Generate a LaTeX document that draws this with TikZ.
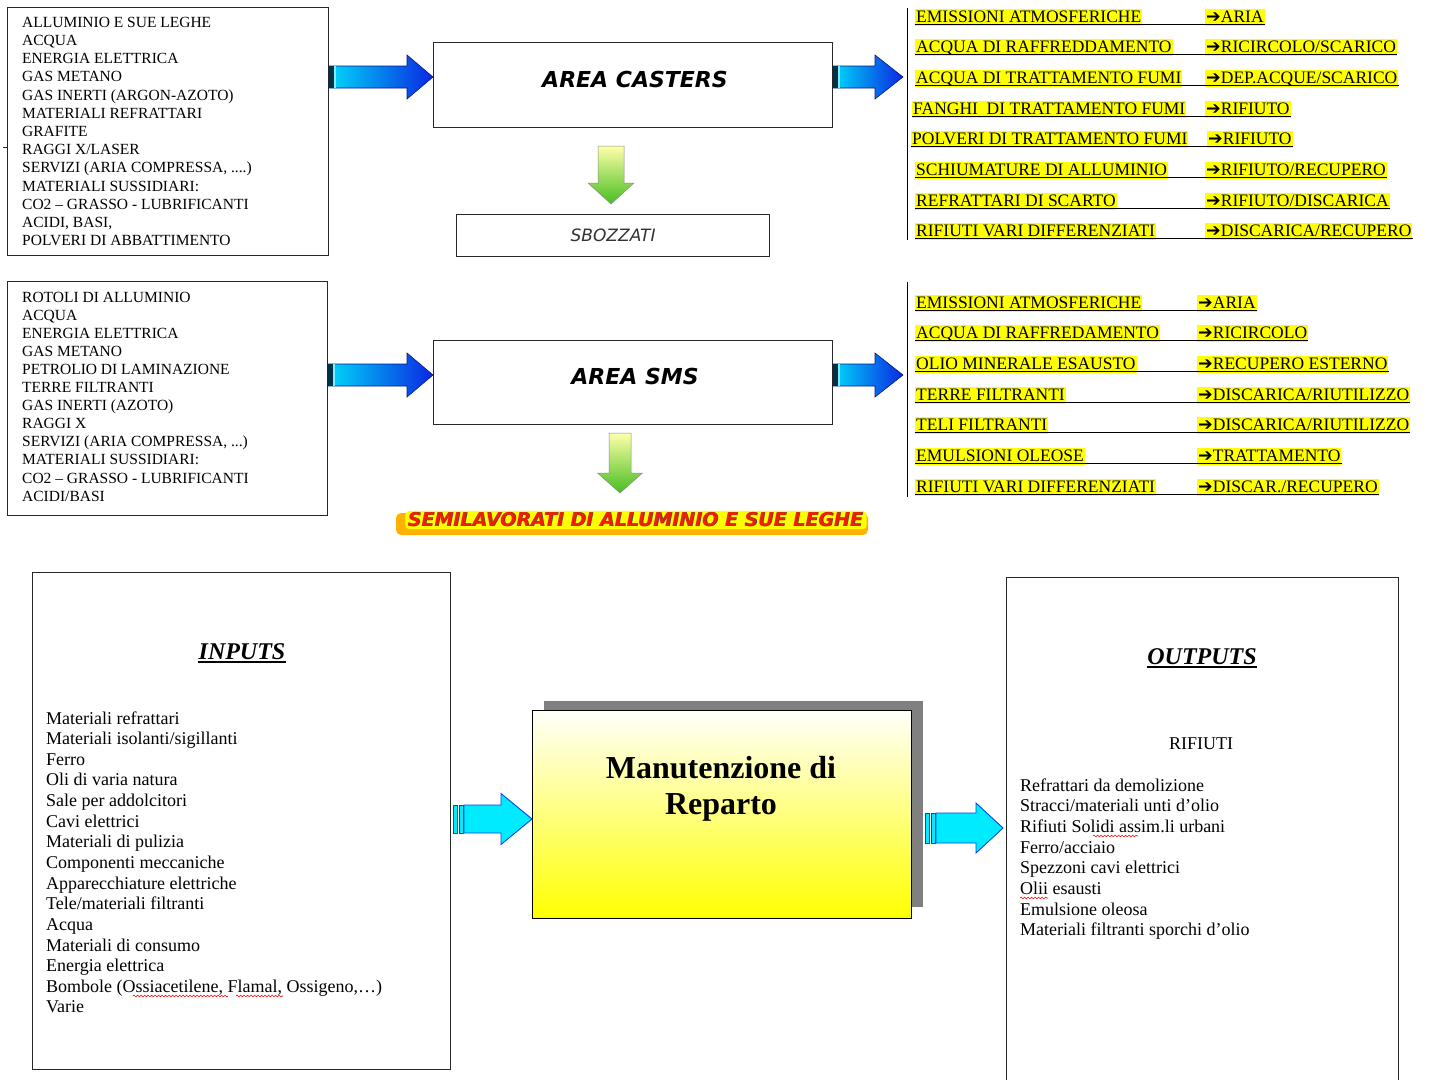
\documentclass[tikz,border=0pt]{standalone}
\usepackage{fontspec}
\setmainfont{Liberation Serif}
\newfontfamily\comic{DejaVu Sans}[BoldFont={DejaVu Sans Bold},ItalicFont={DejaVu Sans Oblique},BoldItalicFont={DejaVu Sans Bold Oblique}]
\newfontfamily\dv{DejaVu Sans}
\usetikzlibrary{calc,backgrounds,decorations.pathmorphing}

\definecolor{cyanA}{RGB}{0,215,250}
\definecolor{cyanM}{RGB}{0,165,245}
\definecolor{blueA}{RGB}{10,40,225}
\definecolor{darkteal}{RGB}{0,50,70}
\definecolor{hly}{RGB}{255,255,0}
\definecolor{greenA}{RGB}{70,190,30}
\definecolor{lyel}{RGB}{255,255,170}
\definecolor{cyanB}{RGB}{0,235,255}
\definecolor{blueB}{RGB}{0,70,235}
\definecolor{semired}{RGB}{240,30,0}
\definecolor{boxline}{RGB}{40,40,40}
\definecolor{shadowgray}{RGB}{128,128,128}

\newcommand\fourdots{.\kern0pt.\kern0pt.\kern0pt.}
\newcommand\threedots{.\kern0pt.\kern0pt.}

\tikzset{
 box/.style={draw=boxline, line width=1.2pt, anchor=north west, inner sep=0pt},
 lst/.style={anchor=base west, inner sep=0pt, font=\fontsize{15.5}{18}\selectfont},
 blst/.style={anchor=base west, inner sep=0pt, font=\fontsize{18}{20}\selectfont},
 hl/.style={fill=hly, anchor=base west, inner xsep=1pt, inner ysep=1pt, text height=12pt, text depth=3pt, font=\fontsize{17.5}{20}\selectfont},
 ul/.style={line width=1.2pt, black},
 comictitle/.style={font=\comic\bfseries\itshape\fontsize{22}{26}\selectfont, inner sep=0pt},
 heading/.style={anchor=base, inner sep=0pt, font=\bfseries\itshape\fontsize{24}{28}\selectfont},
 wavy/.style={draw=red, line width=0.6pt, decorate, decoration={snake, amplitude=0.9pt, segment length=3.5pt}},
 cyanpart/.style={fill=cyanB, draw=blueB, line width=0.9pt}
}

\newcommand\bluearr[3]{%
 \shade[left color=cyanA, middle color=cyanM, right color=blueA, draw=blueA!60!black, line width=0.6pt]
 ($(#1)+(0,-11)$) -- ($(#2)+(-#3,-11)$) -- ($(#2)+(-#3,-22)$) -- (#2) -- ($(#2)+(-#3,22)$) -- ($(#2)+(-#3,11)$) -- ($(#1)+(0,11)$) -- cycle;
 \fill[darkteal] ($(#1)+(0,-11)$) rectangle ($(#1)+(5,11)$);
 \fill[cyanA!50!white] ($(#1)+(5,-11)$) rectangle ($(#1)+(6.5,11)$);
}
\newcommand\greenarr[5]{%
 \shade[top color=lyel, bottom color=greenA, draw=black!45, line width=0.5pt]
 ($(#1)+(-#3,0)$) -- ($(#2)+(-#3,-#5)$) -- ($(#2)+(-#4,-#5)$) -- (#2) -- ($(#2)+(#4,-#5)$) -- ($(#2)+(#3,-#5)$) -- ($(#1)+(#3,0)$) -- cycle;
}
\newcommand\cyanarr[5]{%
 \filldraw[cyanpart] ($(#1)+(0,-#3)$) rectangle ($(#1)+(4.5,#3)$);
 \filldraw[cyanpart] ($(#1)+(6,-#3)$) rectangle ($(#1)+(10,#3)$);
 \filldraw[cyanpart] ($(#1)+(11,-#3)$) -- ($(#2)+(-#5,-#3)$) -- ($(#2)+(-#5,-#4)$) -- (#2) -- ($(#2)+(-#5,#4)$) -- ($(#2)+(-#5,#3)$) -- ($(#1)+(11,#3)$) -- cycle;
}
\newcommand\myrow[6]{%
 \node[hl] (#1a) at (#3,#2) {#4};
 \node[hl] (#1b) at (#5,#2) {{\dv ➔}#6};
 \draw[ul] ([yshift=-2.5pt]#1a.base west) -- ([yshift=-2.5pt]#1b.base east);
}

\begin{document}
\begin{tikzpicture}[x=1pt,y=-1pt]
\clip (0,0) rectangle (1435,1079);
\begin{scope}[on background layer]
 \fill[white] (0,0) rectangle (1435,1079);
\end{scope}

% ---------- top section: AREA CASTERS ----------
\node[box, minimum width=321pt, minimum height=248pt] (in1) at (7,7) {};
\foreach \t [count=\i] in {ALLUMINIO E SUE LEGHE, ACQUA, ENERGIA ELETTRICA, GAS METANO, {GAS INERTI (ARGON-AZOTO)}, MATERIALI REFRATTARI, GRAFITE, {RAGGI X/LASER}, {SERVIZI (ARIA COMPRESSA, \fourdots)}, MATERIALI SUSSIDIARI:, CO2 – GRASSO - LUBRIFICANTI, {ACIDI, BASI,}, POLVERI DI ABBATTIMENTO}
 \node[lst] (la\i) at (22,{27.3+18.2*(\i-1)}) {\t};
\draw[line width=0.8pt, boxline] (3,147) -- (7,147);

\node[box, minimum width=399pt, minimum height=85pt] (cast) at (433,42) {};
\node[comictitle] (castt) at (635,79) {AREA CASTERS};
\node[box, minimum width=313pt, minimum height=42pt, font=\comic\itshape\fontsize{17}{20}\selectfont, text=black!80] (sbo) at (456,214) {SBOZZATI};

\coordinate (ya) at (0,77);
\coordinate (a1s) at (in1.east |- ya);
\coordinate (a1t) at (cast.west |- ya);
\bluearr{a1s}{a1t}{26}
\coordinate (a2s) at (cast.east |- ya);
\coordinate (a2t) at (903,77);
\bluearr{a2s}{a2t}{28}

\coordinate (g1s) at (611,146);
\coordinate (g1t) at (611,204);
\greenarr{g1s}{g1t}{13}{23}{21}

\draw[line width=1pt] (907,8) -- (907,240);
\myrow{r1}{22}{915}{EMISSIONI ATMOSFERICHE}{1205}{ARIA}
\myrow{r2}{52}{915}{ACQUA DI RAFFREDDAMENTO}{1205}{RICIRCOLO/SCARICO}
\myrow{r3}{83}{915}{ACQUA DI TRATTAMENTO FUMI}{1205}{DEP.ACQUE/SCARICO}
\myrow{r4}{114}{912}{FANGHI\ \ DI TRATTAMENTO FUMI}{1205}{RIFIUTO}
\myrow{r5}{144}{911}{POLVERI DI TRATTAMENTO FUMI}{1207}{RIFIUTO}
\myrow{r6}{175}{915}{SCHIUMATURE DI ALLUMINIO}{1205}{RIFIUTO/RECUPERO}
\myrow{r7}{206}{915}{REFRATTARI DI SCARTO}{1205}{RIFIUTO/DISCARICA}
\myrow{r8}{236}{915}{RIFIUTI VARI DIFFERENZIATI}{1205}{DISCARICA/RECUPERO}

% ---------- AREA SMS ----------
\node[box, minimum width=320pt, minimum height=234pt] (in2) at (7,281) {};
\foreach \t [count=\i] in {ROTOLI DI ALLUMINIO, ACQUA, ENERGIA ELETTRICA, GAS METANO, PETROLIO DI LAMINAZIONE, TERRE FILTRANTI, {GAS INERTI (AZOTO)}, RAGGI X, {SERVIZI (ARIA COMPRESSA, \threedots)}, MATERIALI SUSSIDIARI:, CO2 – GRASSO - LUBRIFICANTI, {ACIDI/BASI}}
 \node[lst] (lb\i) at (22,{302+18.1*(\i-1)}) {\t};

\node[box, minimum width=399pt, minimum height=84pt] (sms) at (433,340) {};
\node[comictitle] (smst) at (635,376) {AREA SMS};

\coordinate (yb) at (0,375);
\coordinate (b1s) at (in2.east |- yb);
\coordinate (b1t) at (sms.west |- yb);
\bluearr{b1s}{b1t}{26}
\coordinate (b2s) at (sms.east |- yb);
\coordinate (b2t) at (903,375);
\bluearr{b2s}{b2t}{28}

\coordinate (g2s) at (620,433);
\coordinate (g2t) at (620,493);
\greenarr{g2s}{g2t}{11}{22.5}{20}

\fill[orange!60!yellow, rounded corners=5pt] (396,513) rectangle (868,535);
\node[fill=hly, rounded corners=4pt, inner xsep=3pt, inner ysep=2pt, font=\comic\bfseries\itshape\fontsize{19}{22}\selectfont, text=black!70] (semibg) at (636,520) {SEMILAVORATI DI ALLUMINIO E SUE LEGHE};
\node[inner sep=0pt, font=\comic\bfseries\itshape\fontsize{19}{22}\selectfont, text=semired] (semi) at ($(semibg)+(-0.8,-0.8)$) {SEMILAVORATI DI ALLUMINIO E SUE LEGHE};

\draw[line width=1pt] (907,282) -- (907,497);
\myrow{s1}{308}{915}{EMISSIONI ATMOSFERICHE}{1197}{ARIA}
\myrow{s2}{338}{915}{ACQUA DI RAFFREDAMENTO}{1197}{RICIRCOLO}
\myrow{s3}{369}{915}{OLIO MINERALE ESAUSTO}{1197}{RECUPERO ESTERNO}
\myrow{s4}{400}{915}{TERRE FILTRANTI}{1197}{DISCARICA/RIUTILIZZO}
\myrow{s5}{430}{915}{TELI FILTRANTI}{1197}{DISCARICA/RIUTILIZZO}
\myrow{s6}{461}{915}{EMULSIONI OLEOSE}{1197}{TRATTAMENTO}
\myrow{s7}{492}{915}{RIFIUTI VARI DIFFERENZIATI}{1197}{DISCAR./RECUPERO}

% ---------- bottom section ----------
\node[box, minimum width=418pt, minimum height=497pt] (inb) at (32,572) {};
\node[heading] (inph) at (242,659) {INPUTS};
\draw[line width=1.8pt] ([yshift=-3pt]inph.base west) -- ([yshift=-3pt]inph.base east);
\foreach \t [count=\i] in {Materiali refrattari, {Materiali isolanti/sigillanti}, Ferro, Oli di varia natura, Sale per addolcitori, Cavi elettrici, Materiali di pulizia, Componenti meccaniche, Apparecchiature elettriche, {Tele/materiali filtranti}, Acqua, Materiali di consumo, Energia elettrica, {Bombole (Ossiacetilene, Flamal, Ossigeno,…)}, Varie}
 \node[blst] (lc\i) at (46,{724+20.64*(\i-1)}) {\t};

\node[box, minimum width=392pt, minimum height=520pt] (outb) at (1006,577) {};
\node[heading] (outh) at (1202,664) {OUTPUTS};
\draw[line width=1.8pt] ([yshift=-3pt]outh.base west) -- ([yshift=-3pt]outh.base east);
\node[blst, anchor=base] (rif) at (1201,749) {RIFIUTI};
\foreach \t [count=\i] in {Refrattari da demolizione, {Stracci/materiali unti d’olio}, Rifiuti Solidi assim.li urbani, {Ferro/acciaio}, Spezzoni cavi elettrici, Olii esausti, Emulsione oleosa, Materiali filtranti sporchi d’olio}
 \node[blst] (ld\i) at (1020,{791+20.7*(\i-1)}) {\t};

\node[draw=black, line width=1.2pt, anchor=north west, minimum width=379pt, minimum height=208pt, top color={rgb,255:red,255;green,255;blue,250}, middle color={rgb,255:red,255;green,255;blue,215}, bottom color={rgb,255:red,255;green,255;blue,0}] (mbox) at (532,710) {};
\begin{scope}[on background layer]
 \fill[shadowgray] ($(mbox.north west)+(12,-9)$) rectangle ($(mbox.south east)+(11,-12)$);
\end{scope}
\node[anchor=base, inner sep=0pt, font=\bfseries\fontsize{32}{36}\selectfont] (mt1) at (721,778) {Manutenzione di};
\node[anchor=base, inner sep=0pt, font=\bfseries\fontsize{32}{36}\selectfont] (mt2) at (721,814) {Reparto};

\coordinate (c1s) at (453,819);
\coordinate (c1t) at (mbox.west |- c1s);
\cyanarr{c1s}{c1t}{14}{25.5}{31}
\coordinate (c2s) at (925,828);
\coordinate (c2t) at (1003,828);
\cyanarr{c2s}{c2t}{15}{25}{27}

% spell-check marks
\draw[wavy] (133,996) -- (228,996);
\draw[wavy] (236,996) -- (283,996);
\draw[wavy] (1093,836) -- (1138,836);
\draw[wavy] (1020,898) -- (1048,898);
\end{tikzpicture}
\end{document}
